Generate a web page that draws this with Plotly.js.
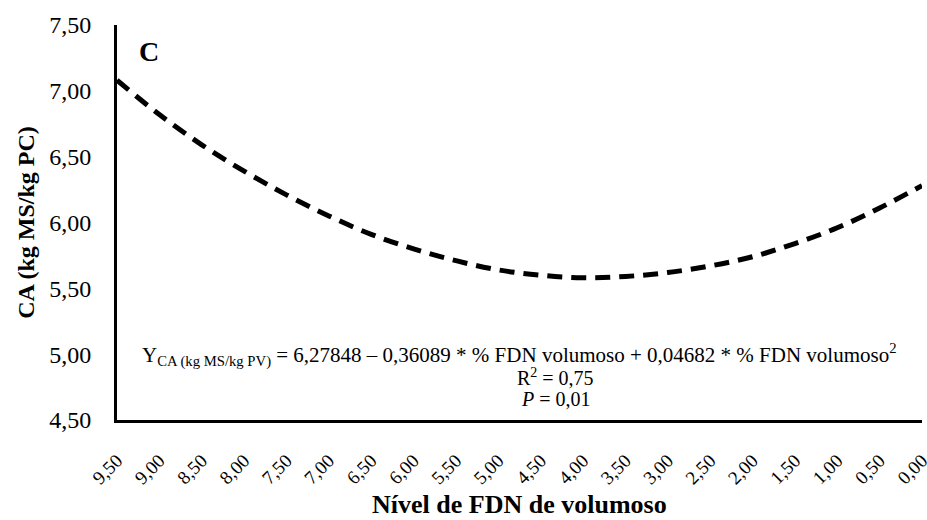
<!DOCTYPE html>
<html>
<head>
<meta charset="utf-8">
<script src="https://cdn.plot.ly/plotly-3.0.1.min.js"></script>
<style>html,body{margin:0;padding:0;background:#fff;}#chart{width:927px;height:520px;}</style>
</head>
<body>
<div id="chart"></div>
<script>
// Nível de FDN de volumoso (%)
const fdnLevels = [9.5, 9.0, 8.5, 8.0, 7.5, 7.0, 6.5, 6.0, 5.5, 5.0, 4.5, 4.0, 3.5, 3.0, 2.5, 2.0, 1.5, 1.0, 0.5, 0.0];
// CA (kg MS/kg PC)
const caValues = [7.08, 6.82, 6.59, 6.39, 6.21, 6.05, 5.91, 5.80, 5.71, 5.64, 5.60, 5.58, 5.59, 5.62, 5.67, 5.74, 5.84, 5.96, 6.11, 6.28];
const xTickVals = [9.5, 9.0, 8.5, 8.0, 7.5, 7.0, 6.5, 6.0, 5.5, 5.0, 4.5, 4.0, 3.5, 3.0, 2.5, 2.0, 1.5, 1.0, 0.5, 0.0];
const xTickText = ["9,50","9,00","8,50","8,00","7,50","7,00","6,50","6,00","5,50","5,00","4,50","4,00","3,50","3,00","2,50","2,00","1,50","1,00","0,50","0,00"];
const yTickVals = [4.5, 5.0, 5.5, 6.0, 6.5, 7.0, 7.5];
const yTickText = ["4,50","5,00","5,50","6,00","6,50","7,00","7,50"];

const font = "'Liberation Serif', 'Times New Roman', serif";

const trace = {
  x: fdnLevels, y: caValues, type: "scatter", mode: "lines",
  line: {color: "#000", width: 5, dash: "15px,9px", shape: "spline"},
  hoverinfo: "skip", showlegend: false, cliponaxis: false
};

const layout = {
  width: 927, height: 520,
  margin: {l: 117, r: 5, t: 25, b: 100},
  paper_bgcolor: "#fff", plot_bgcolor: "#fff",
  font: {family: font, color: "#000"},
  xaxis: {
    range: [9.5, -0.0001], autorange: false,
    tickvals: xTickVals, ticktext: xTickText, tickangle: -45,
    tickfont: {size: 19, family: font, color: "#000"},
    showgrid: false, zeroline: false, showline: true, linecolor: "#000", linewidth: 3,
    ticks: "", ticklabelstandoff: 19, ticklabeloverflow: "allow"
  },
  yaxis: {
    range: [4.5, 7.5], autorange: false,
    tickvals: yTickVals, ticktext: yTickText,
    tickfont: {size: 24, family: font, color: "#000"},
    showgrid: false, zeroline: false, showline: true, linecolor: "#000", linewidth: 3,
    ticks: "", ticklabelstandoff: 18,
    title: {text: "<b>CA (kg MS/kg PC)</b>", font: {size: 24, family: font, color: "#000"}, standoff: 8}
  },
  annotations: [
    {xref: "paper", yref: "paper", x: 0.5, y: -0.213, xanchor: "center", yanchor: "middle",
     text: "<b>Nível de FDN de volumoso</b>", showarrow: false, font: {size: 26, family: font, color: "#000"}},
    {xref: "paper", yref: "paper", x: 0.025, y: 0.932, xanchor: "left", yanchor: "middle",
     text: "<b>C</b>", showarrow: false, font: {size: 28, family: font, color: "#000"}},
    {xref: "paper", yref: "paper", x: 0.5, y: 0.165, xanchor: "center", yanchor: "middle",
     text: "Y<sub>CA (kg MS/kg PV)</sub> = 6,27848 – 0,36089 * % FDN volumoso + 0,04682 * % FDN volumoso<sup>2</sup>",
     showarrow: false, font: {size: 21, family: font, color: "#000"}},
    {xref: "paper", yref: "paper", x: 0.545, y: 0.11, xanchor: "center", yanchor: "middle",
     text: "R<sup>2</sup> = 0,75", showarrow: false, font: {size: 20, family: font, color: "#000"}},
    {xref: "paper", yref: "paper", x: 0.545, y: 0.052, xanchor: "center", yanchor: "middle",
     text: "<i>P</i> = 0,01", showarrow: false, font: {size: 20, family: font, color: "#000"}}
  ]
};

Plotly.newPlot("chart", [trace], layout, {displayModeBar: false, staticPlot: true});
</script>
</body>
</html>
